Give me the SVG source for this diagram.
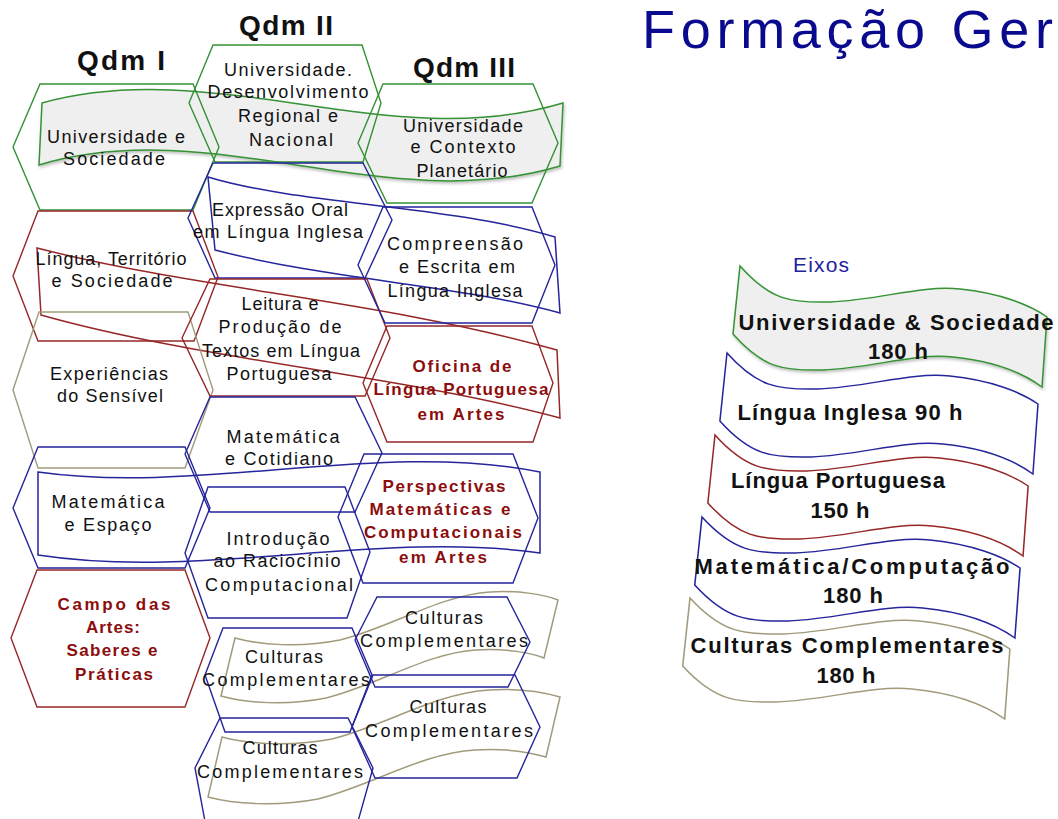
<svg xmlns="http://www.w3.org/2000/svg" xmlns:xlink="http://www.w3.org/1999/xlink" width="1058" height="819" viewBox="0 0 1058 819">
<defs>
<style>
.hx{fill:none;stroke-width:1.4;stroke-linejoin:miter}
.wv{fill:none;stroke-width:1.5}
.wv.gf{fill:#efefef}
.g{stroke:#349234}
.r{stroke:#962727}
.b{stroke:#25259c}
.t{stroke:#a19b7b}
.tx{font-family:"Liberation Sans",Arial,Helvetica,sans-serif;font-size:18px;fill:#111;text-anchor:middle}
.bt{font-weight:bold;font-size:17px;fill:#8c0d0d}
.hd{font-family:"Liberation Sans",Arial,Helvetica,sans-serif;font-size:28px;font-weight:bold;fill:#111;text-anchor:middle}
.ex{font-family:"Liberation Sans",Arial,Helvetica,sans-serif;font-size:22px;font-weight:bold;fill:#111;text-anchor:middle}
</style>
<filter id="sh" x="-10%" y="-10%" width="120%" height="130%">
<feDropShadow dx="1" dy="2" stdDeviation="1.5" flood-color="#000" flood-opacity="0.25"/>
</filter>
<path id="wave" d="M0,0 C30,34 50,37 90,36 C140,34 180,19 220,23 C260,27 290,39 307,51 L302,121 C283,107 253,95 213,91 C173,87 133,102 83,104 C43,105 23,102 -7,68 Z"/>
</defs>
<rect width="1058" height="819" fill="#ffffff"/>

<g id="title">
<text x="642" y="48" font-family="Liberation Sans, Arial, sans-serif" font-size="54" fill="#0a0a8f" textLength="411" lengthAdjust="spacing">Formação Ger</text>
</g>

<g id="headers">
<text class="hd" x="121" y="70" textLength="88" lengthAdjust="spacing">Qdm I</text>
<text class="hd" x="286" y="35" textLength="94" lengthAdjust="spacing">Qdm II</text>
<text class="hd" x="464" y="77" textLength="102" lengthAdjust="spacing">Qdm III</text>
</g>

<g id="axis-bands">
<path id="band-universidade" class="wv g gf" filter="url(#sh)" d="M42,103 C215,55 390,155 563,103 L560,166 C387,218 212,113 39,165 Z"/>
<path id="band-ingles" class="wv b" d="M208,177 C300,205 450,205 555,237 L560,313 C460,285 330,280 215,250 Z"/>
<path id="band-portugues" class="wv r" d="M37,248 C200,290 380,300 557,350 L560,418 C400,375 200,360 41,315 Z"/>
<path id="band-matematica" class="wv b" d="M38,472 C200,495 380,440 540,472 L540,553 C380,530 200,580 38,555 Z"/>
<path id="band-culturas-1" class="wv t" d="M235,638 C260,645 300,648 340,640 C390,628 440,595 490,592 C520,590 545,595 558,600 L544,658 C531,653 506,648 476,650 C426,653 376,686 326,698 C286,706 246,703 221,696 Z"/>
<path id="band-culturas-2" class="wv t" d="M222,737 C248,744 290,747 332,739 C384,726 436,693 489,690 C520,688 546,693 560,697 L546,757 C532,753 506,748 475,750 C422,753 370,786 318,799 C276,807 234,804 208,797 Z"/>
</g>

<g id="n-univ-sociedade">
<polygon class="hx g" points="13,147 40,84 193,84 219,147 193,210 40,210"/>
<text class="tx" x="116" y="143" textLength="138" lengthAdjust="spacing">Universidade e</text>
<text class="tx" x="114" y="165" textLength="102" lengthAdjust="spacing">Sociedade</text>
</g>
<g id="n-lingua-territorio">
<polygon class="hx r" points="13,276 38,211 193,211 218,277 194,341 38,341"/>
<text class="tx" x="111" y="265" textLength="151" lengthAdjust="spacing">Língua, Território</text>
<text class="tx" x="112" y="287" textLength="121" lengthAdjust="spacing">e Sociedade</text>
</g>
<g id="n-experiencias">
<polygon class="hx t" points="13,390 39,312 188,312 213,390 185,468 38,468"/>
<text class="tx" x="109" y="380" textLength="118" lengthAdjust="spacing">Experiências</text>
<text class="tx" x="110" y="402" textLength="106" lengthAdjust="spacing">do Sensível</text>
</g>
<g id="n-mat-espaco">
<polygon class="hx b" points="13,508 38,447 185,447 210,508 185,568 38,568"/>
<text class="tx" x="108" y="508" textLength="113" lengthAdjust="spacing">Matemática</text>
<text class="tx" x="108" y="531" textLength="87" lengthAdjust="spacing">e Espaço</text>
</g>
<g id="n-campo-artes">
<polygon class="hx r" points="11,638 37,570 185,570 210,638 185,707 37,707"/>
<text class="tx bt" x="114" y="610" textLength="113" lengthAdjust="spacing">Campo das</text>
<text class="tx bt" x="113" y="633" textLength="54" lengthAdjust="spacing">Artes:</text>
<text class="tx bt" x="112" y="656" textLength="91" lengthAdjust="spacing">Saberes e</text>
<text class="tx bt" x="114" y="680" textLength="78" lengthAdjust="spacing">Práticas</text>
</g>

<g id="n-univ-desenvolvimento">
<polygon class="hx g" points="189,103 213,45 362,45 381,103 363,162 215,162"/>
<text class="tx" x="288" y="76" textLength="128" lengthAdjust="spacing">Universidade.</text>
<text class="tx" x="288" y="98" textLength="161" lengthAdjust="spacing">Desenvolvimento</text>
<text class="tx" x="288" y="122" textLength="100" lengthAdjust="spacing">Regional e</text>
<text class="tx" x="291" y="146" textLength="84" lengthAdjust="spacing">Nacional</text>
</g>
<g id="n-expressao-oral">
<polygon class="hx b" points="188,218 213,163 363,163 392,220 365,278 215,278"/>
<text class="tx" x="280" y="216" textLength="136" lengthAdjust="spacing">Expressão Oral</text>
<text class="tx" x="278" y="238" textLength="170" lengthAdjust="spacing">em Língua Inglesa</text>
</g>
<g id="n-leitura">
<polygon class="hx r" points="182,338 210,279 367,279 390,338 365,396 210,396"/>
<text class="tx" x="280" y="310" textLength="77" lengthAdjust="spacing">Leitura e</text>
<text class="tx" x="280" y="333" textLength="123" lengthAdjust="spacing">Produção de</text>
<text class="tx" x="281" y="357" textLength="158" lengthAdjust="spacing">Textos em Língua</text>
<text class="tx" x="279" y="380" textLength="105" lengthAdjust="spacing">Portuguesa</text>
</g>
<g id="n-mat-cotidiano">
<polygon class="hx b" points="185,454 210,397 355,397 382,453 355,512 210,512"/>
<text class="tx" x="283" y="443" textLength="113" lengthAdjust="spacing">Matemática</text>
<text class="tx" x="279" y="465" textLength="108" lengthAdjust="spacing">e Cotidiano</text>
</g>
<g id="n-introducao">
<polygon class="hx b" points="185,553 208,487 345,487 370,552 347,618 208,618"/>
<text class="tx" x="278" y="545" textLength="103" lengthAdjust="spacing">Introdução</text>
<text class="tx" x="277" y="567" textLength="127" lengthAdjust="spacing">ao Raciocínio</text>
<text class="tx" x="279" y="591" textLength="148" lengthAdjust="spacing">Computacional</text>
</g>
<g id="n-culturas-2a">
<polygon class="hx b" points="205,675 223,628 352,628 372,675 350,732 225,732"/>
<text class="tx" x="284" y="663" textLength="78" lengthAdjust="spacing">Culturas</text>
<text class="tx" x="286" y="686" textLength="168" lengthAdjust="spacing">Complementares</text>
</g>
<g id="n-culturas-2b">
<polygon class="hx b" points="195,768 220,718 348,718 373,768 355,832 207,832"/>
<text class="tx" x="280" y="754" textLength="75" lengthAdjust="spacing">Culturas</text>
<text class="tx" x="280" y="778" textLength="166" lengthAdjust="spacing">Complementares</text>
</g>

<g id="n-univ-contexto">
<polygon class="hx g" points="358,143 383,84 533,84 558,143 532,203 387,203"/>
<text class="tx" x="463" y="132" textLength="120" lengthAdjust="spacing">Universidade</text>
<text class="tx" x="463" y="153" textLength="105" lengthAdjust="spacing">e Contexto</text>
<text class="tx" x="462" y="177" textLength="91" lengthAdjust="spacing">Planetário</text>
</g>
<g id="n-compreensao">
<polygon class="hx b" points="358,265 383,207 532,207 555,265 532,323 385,323"/>
<text class="tx" x="455" y="250" textLength="136" lengthAdjust="spacing">Compreensão</text>
<text class="tx" x="457" y="273" textLength="116" lengthAdjust="spacing">e Escrita em</text>
<text class="tx" x="455" y="297" textLength="135" lengthAdjust="spacing">Língua Inglesa</text>
</g>
<g id="n-oficina">
<polygon class="hx r" points="363,383 387,326 532,326 553,383 533,442 387,442"/>
<text class="tx bt" x="462" y="372" textLength="99" lengthAdjust="spacing">Oficina de</text>
<text class="tx bt" x="461" y="395" textLength="175" lengthAdjust="spacing">Língua Portuguesa</text>
<text class="tx bt" x="461" y="420" textLength="87" lengthAdjust="spacing">em Artes</text>
</g>
<g id="n-perspectivas">
<polygon class="hx b" points="338,517 364,454 513,454 538,518 513,583 363,583"/>
<text class="tx bt" x="444" y="492" textLength="123" lengthAdjust="spacing">Perspectivas</text>
<text class="tx bt" x="440" y="515" textLength="141" lengthAdjust="spacing">Matemáticas e</text>
<text class="tx bt" x="443" y="538" textLength="158" lengthAdjust="spacing">Computacionais</text>
<text class="tx bt" x="443" y="563" textLength="88" lengthAdjust="spacing">em Artes</text>
</g>
<g id="n-culturas-3a">
<polygon class="hx b" points="355,640 377,597 507,597 530,642 508,687 375,687"/>
<text class="tx" x="444" y="624" textLength="78" lengthAdjust="spacing">Culturas</text>
<text class="tx" x="444" y="647" textLength="168" lengthAdjust="spacing">Complementares</text>
</g>
<g id="n-culturas-3b">
<polygon class="hx b" points="352,727 373,675 515,675 540,727 517,778 375,778"/>
<text class="tx" x="448" y="713" textLength="77" lengthAdjust="spacing">Culturas</text>
<text class="tx" x="449" y="737" textLength="168" lengthAdjust="spacing">Complementares</text>
</g>

<g id="eixos">
<text x="821" y="272" font-family="Liberation Sans, Arial, sans-serif" font-size="21" fill="#2222a0" text-anchor="middle" textLength="56" lengthAdjust="spacing">Eixos</text>
</g>
<g id="eixo-universidade">
<use xlink:href="#wave" href="#wave" class="wv g gf" filter="url(#sh)" transform="translate(740,266)"/>
<text class="ex" x="896" y="330" textLength="315" lengthAdjust="spacing">Universidade &amp; Sociedade</text>
<text class="ex" x="898" y="359" textLength="60" lengthAdjust="spacing">180 h</text>
</g>
<g id="eixo-ingles">
<use xlink:href="#wave" href="#wave" class="wv b" transform="translate(727,353) scale(1.013,1)"/>
<text class="ex" x="850" y="420" textLength="225" lengthAdjust="spacing">Língua Inglesa 90 h</text>
</g>
<g id="eixo-portugues">
<use xlink:href="#wave" href="#wave" class="wv r" transform="translate(715,435) scale(1.02,1)"/>
<text class="ex" x="838" y="488" textLength="214" lengthAdjust="spacing">Língua Portuguesa</text>
<text class="ex" x="840" y="518" textLength="59" lengthAdjust="spacing">150 h</text>
</g>
<g id="eixo-matematica">
<use xlink:href="#wave" href="#wave" class="wv b" transform="translate(702,517) scale(1.036,1)"/>
<text class="ex" x="852" y="574" textLength="315" lengthAdjust="spacing">Matemática/Computação</text>
<text class="ex" x="853" y="603" textLength="60" lengthAdjust="spacing">180 h</text>
</g>
<g id="eixo-culturas">
<use xlink:href="#wave" href="#wave" class="wv t" transform="translate(690,598) scale(1.042,1)"/>
<text class="ex" x="847" y="653" textLength="313" lengthAdjust="spacing">Culturas Complementares</text>
<text class="ex" x="846" y="683" textLength="59" lengthAdjust="spacing">180 h</text>
</g>
</svg>
